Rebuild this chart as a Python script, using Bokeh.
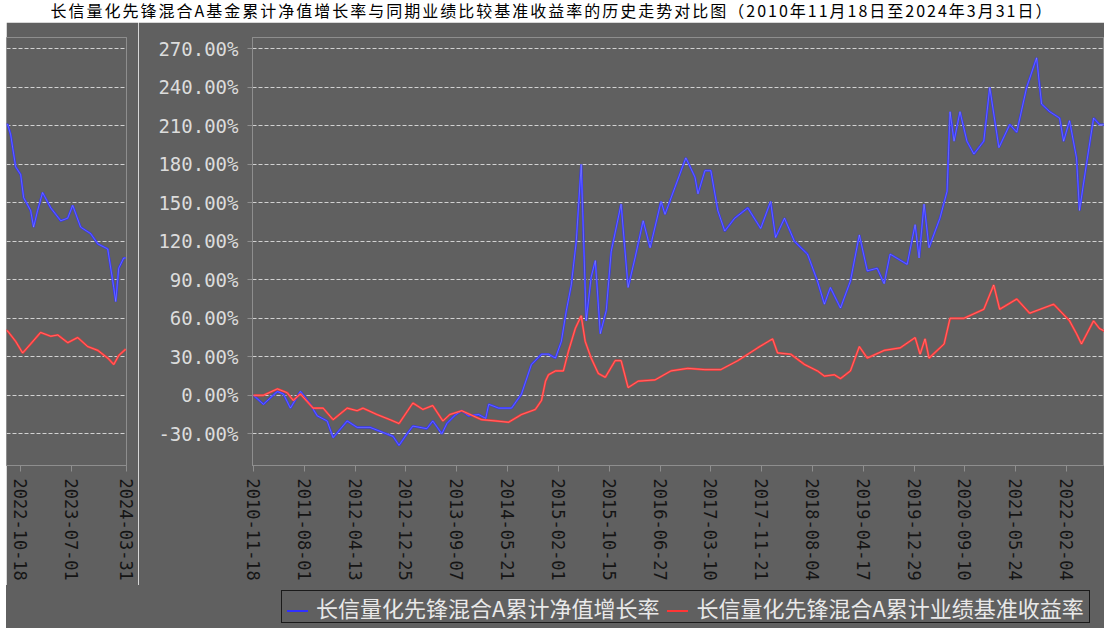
import pandas as pd
from bokeh.plotting import figure
from bokeh.models import (FixedTicker, PrintfTickFormatter, DatetimeTickFormatter,
                          Div, Range1d, Spacer)
from bokeh.layouts import row, column
from bokeh.embed import file_html
from bokeh.resources import INLINE

# ---------------- data ----------------
title_text = "长信量化先锋混合A基金累计净值增长率与同期业绩比较基准收益率的历史走势对比图（2010年11月18日至2024年3月31日）"
nav_label = "长信量化先锋混合A累计净值增长率"
bench_label = "长信量化先锋混合A累计业绩基准收益率"

nav_dates = [
    "2010-11-18", "2011-01-07", "2011-03-18", "2011-04-18", "2011-05-23", "2011-07-12", "2011-08-31", "2011-10-05", "2011-11-24", "2011-12-24",
    "2012-03-04", "2012-04-23", "2012-06-27", "2012-09-01", "2012-10-21", "2012-11-20", "2012-12-30", "2013-01-29", "2013-04-09", "2013-05-09",
    "2013-06-24", "2013-07-19", "2013-09-02", "2013-10-02", "2013-11-06", "2013-12-26", "2014-01-31", "2014-02-15", "2014-04-06", "2014-06-10",
    "2014-07-30", "2014-09-18", "2014-11-08", "2014-12-13", "2015-01-17", "2015-02-16", "2015-03-13", "2015-04-07", "2015-05-02", "2015-05-27",
    "2015-06-21", "2015-07-16", "2015-08-06", "2015-08-31", "2015-09-30", "2015-10-25", "2015-12-14", "2016-01-18", "2016-02-22", "2016-04-03",
    "2016-05-08", "2016-07-02", "2016-07-22", "2016-09-10", "2016-11-04", "2016-12-20", "2017-01-04", "2017-02-08", "2017-03-10", "2017-04-14",
    "2017-05-19", "2017-07-08", "2017-09-12", "2017-11-16", "2018-01-05", "2018-01-30", "2018-03-16", "2018-05-05", "2018-07-10", "2018-08-29",
    "2018-10-03", "2018-11-02", "2018-12-23", "2019-02-11", "2019-03-28", "2019-05-07", "2019-06-26", "2019-07-31", "2019-08-30", "2019-11-24",
    "2020-01-03", "2020-01-23", "2020-02-17", "2020-03-13", "2020-05-07", "2020-06-12", "2020-06-27", "2020-07-17", "2020-08-16", "2020-09-20",
    "2020-10-25", "2020-12-14", "2021-01-13", "2021-02-28", "2021-04-24", "2021-05-29", "2021-07-18", "2021-09-06", "2021-10-01", "2021-11-11",
    "2021-12-31", "2022-01-20", "2022-02-19", "2022-03-26", "2022-04-10", "2022-05-15", "2022-06-20", "2022-07-20",
    "2022-08-14", "2022-08-29", "2022-09-13", "2022-09-23", "2022-10-18", "2022-11-02", "2022-12-07", "2022-12-22", "2023-01-11", "2023-02-05",
    "2023-03-18", "2023-05-07", "2023-06-11", "2023-07-06", "2023-08-15", "2023-10-04", "2023-11-09", "2023-12-29", "2024-01-28", "2024-02-07",
    "2024-02-22", "2024-03-18", "2024-03-28",
]
nav_values = [
    0, -7, 3, 1, -10, 3, -7, -16, -20, -33,
    -20, -25, -25, -29, -32, -39, -30, -24, -26, -20,
    -30, -22, -15, -12, -16, -15, -18, -7, -10, -10,
    1, 24, 32, 32, 29, 42, 66, 86, 120, 180,
    58, 92, 105, 48, 66, 112, 149, 84, 107, 136,
    115, 151, 141, 162, 185, 170, 157, 175, 175, 144,
    128, 138, 146, 130, 151, 123, 138, 120, 110, 89,
    71, 84, 68, 89, 125, 97, 99, 87, 110, 102,
    133, 107, 149, 115, 138, 159, 221, 198, 221, 198,
    188, 198, 240, 193, 211, 205, 240, 263, 227, 221,
    216, 198, 214, 185, 144, 180, 216, 211,
    211, 203, 188, 178, 172, 154, 144, 131, 144, 158,
    146, 136, 138, 148, 131, 126, 118, 114, 84, 73,
    99, 107, 107,
]

bench_dates = [
    "2010-11-18", "2011-01-07", "2011-03-18", "2011-05-07", "2011-06-06", "2011-07-12", "2011-09-15", "2011-11-04", "2011-12-24", "2012-03-04",
    "2012-04-23", "2012-05-23", "2012-08-01", "2012-10-06", "2012-11-20", "2013-01-29", "2013-03-20", "2013-05-09", "2013-06-29", "2013-08-03",
    "2013-10-02", "2014-01-10", "2014-03-22", "2014-05-26", "2014-07-30", "2014-10-08", "2014-11-08", "2014-11-28", "2014-12-13", "2015-01-17",
    "2015-02-26", "2015-03-23", "2015-04-27", "2015-05-27", "2015-06-16", "2015-07-16", "2015-08-21", "2015-09-25", "2015-11-14", "2015-12-14",
    "2016-01-18", "2016-03-09", "2016-06-02", "2016-08-21", "2016-11-14", "2017-02-08", "2017-04-29", "2017-07-24", "2017-11-01", "2018-01-15",
    "2018-02-09", "2018-04-16", "2018-06-25", "2018-08-29", "2018-10-03", "2018-11-22", "2018-12-23", "2019-02-11", "2019-03-28", "2019-05-07",
    "2019-07-31", "2019-10-20", "2020-01-03", "2020-01-28", "2020-02-22", "2020-03-13", "2020-05-28", "2020-06-27", "2020-09-05", "2020-12-14",
    "2021-02-02", "2021-03-04", "2021-05-29", "2021-08-02", "2021-12-01", "2022-02-19", "2022-03-26", "2022-04-20", "2022-06-20", "2022-07-20",
    "2022-08-14", "2022-09-23", "2022-10-28", "2022-12-07", "2023-01-26", "2023-03-18", "2023-04-22", "2023-06-11", "2023-07-31", "2023-09-19",
    "2023-11-09", "2023-12-29", "2024-01-28", "2024-02-22", "2024-03-28",
]
bench_values = [
    0, 0, 5, 2, -4, 1, -10, -10, -19, -10,
    -12, -10, -15, -19, -22, -6, -11, -8, -20, -15,
    -12, -19, -20, -21, -15, -11, -4, 11, 16, 19,
    19, 34, 52, 62, 42, 29, 17, 14, 27, 27,
    6, 11, 12, 19, 21, 20, 20, 27, 37, 44,
    33, 32, 24, 19, 15, 16, 13, 19, 38, 29,
    35, 37, 45, 32, 44, 29, 40, 60, 60, 67,
    86, 67, 75, 64, 71, 58, 48, 40, 58, 52,
    50, 42, 33, 40, 49, 46, 47, 41, 45, 38,
    35, 29, 24, 31, 36,
]

x_tick_dates = [
    "2010-11-18", "2011-08-01", "2012-04-13", "2012-12-25", "2013-09-07", "2014-05-21",
    "2015-02-01", "2015-10-15", "2016-06-27", "2017-03-10", "2017-11-21", "2018-08-04",
    "2019-04-17", "2019-12-29", "2020-09-10", "2021-05-24", "2022-02-04",
    "2022-10-18", "2023-07-01", "2024-03-31",
]
y_ticks = [-30, 0, 30, 60, 90, 120, 150, 180, 210, 240, 270]

# ---------------- styling ----------------
BG = "#606060"
AXIS_C = "#8e8e8e"
BLUE = "#3030ff"
RED = "#ff3535"
FIG_H = 563

nav_x = pd.to_datetime(nav_dates)
bench_x = pd.to_datetime(bench_dates)
tick_ms = [pd.Timestamp(d).value / 1e6 for d in x_tick_dates]

fmt = "%Y-%m-%d"
dt_fmt = DatetimeTickFormatter(microseconds=fmt, milliseconds=fmt, seconds=fmt, minsec=fmt,
                               minutes=fmt, hourmin=fmt, hours=fmt, days=fmt, months=fmt, years=fmt)


def make_fig(width, start, end, left_border, right_border, show_y):
    p = figure(width=width, height=FIG_H, x_axis_type="datetime",
               x_range=Range1d(pd.Timestamp(start), pd.Timestamp(end)),
               y_range=Range1d(-54.7, 278.8),
               y_axis_location="left" if show_y else None,
               output_backend="svg", toolbar_location=None,
               min_border_left=left_border, min_border_right=right_border,
               min_border_top=15, min_border_bottom=120)
    p.background_fill_color = BG
    p.border_fill_color = BG
    p.outline_line_color = AXIS_C
    p.xgrid.visible = False
    p.ygrid.ticker = FixedTicker(ticks=y_ticks)
    p.ygrid.grid_line_color = "#d2d2d2"
    p.ygrid.grid_line_dash = "4 2"
    p.ygrid.grid_line_width = 1

    xa = p.xaxis[0]
    xa.ticker = FixedTicker(ticks=tick_ms)
    xa.formatter = dt_fmt
    xa.major_label_orientation = "vertical"
    xa.major_label_text_font = "DejaVu Sans Mono"
    xa.major_label_text_font_size = "17px"
    xa.major_label_text_color = "#151515"
    xa.axis_line_color = AXIS_C
    xa.major_tick_line_color = AXIS_C
    xa.major_tick_out = 6
    xa.major_tick_in = 0
    xa.minor_tick_line_color = None
    xa.major_label_standoff = 7

    if show_y:
        ya = p.yaxis[0]
        ya.ticker = FixedTicker(ticks=y_ticks)
        ya.formatter = PrintfTickFormatter(format="%.2f%%")
        ya.major_label_text_font = "DejaVu Sans Mono"
        ya.major_label_text_font_size = "19px"
        ya.major_label_text_color = "#dcdcdc"
        ya.axis_line_color = AXIS_C
        ya.major_tick_line_color = AXIS_C
        ya.major_tick_out = 5
        ya.major_tick_in = 0
        ya.minor_tick_line_color = None
        ya.major_label_standoff = 9

    p.line(nav_x, nav_values, line_color=BLUE, line_width=2.2)
    p.line(nav_x, nav_values, line_color="#e0e0ff", line_width=0.7, line_alpha=0.45)
    p.line(bench_x, bench_values, line_color=RED, line_width=2.2)
    p.line(bench_x, bench_values, line_color="#ffe0e0", line_width=0.7, line_alpha=0.45)
    return p


# left panel: frame 6..126 on the page, 12px right border so the last date label is not clipped
left = make_fig(132, "2022-08-08", "2024-04-01", 0, 12, False)
# main panel: starts at page x=138, frame from 252 to 1104
main = make_fig(966, "2010-11-13", "2022-08-14", 114, 0, True)

title = Div(text=title_text, width=1104, height=22, margin=0,
            styles={"font-family": "Noto Sans CJK SC", "font-size": "16px", "line-height": "20px",
                    "color": "#000000", "text-align": "center", "white-space": "nowrap",
                    "width": "1104px", "letter-spacing": "2px",
                    "background-color": "#ffffff"})

line_css = "display:inline-block;width:21px;height:0;vertical-align:middle;margin-right:8px;"
legend_html = (
    '<div style="position:absolute;left:275px;top:5px;height:33px;line-height:33px;'
    'border:1px solid #1a1a1a;padding:0 5px;white-space:nowrap;'
    'font-family:\'Noto Sans CJK SC\';font-size:22px;color:#e8e8e8;background:%s;">'
    '<span style="%sborder-top:2px solid %s;"></span>%s'
    '<span style="%smargin-left:8px;border-top:2px solid %s;"></span>%s'
    '</div>' % (BG, line_css, BLUE, nav_label, line_css, RED, bench_label)
)
legend_div = Div(text=legend_html, width=1098, height=43, margin=0,
                 styles={"background-color": BG, "position": "relative", "overflow": "hidden",
                         "width": "1098px", "height": "43px"})

layout = column(
    title,
    row(Spacer(width=6, height=FIG_H), left, main, spacing=0),
    row(Spacer(width=6, height=43), legend_div, spacing=0),
    spacing=0,
)

open("out.html", "w").write(file_html(layout, INLINE))
